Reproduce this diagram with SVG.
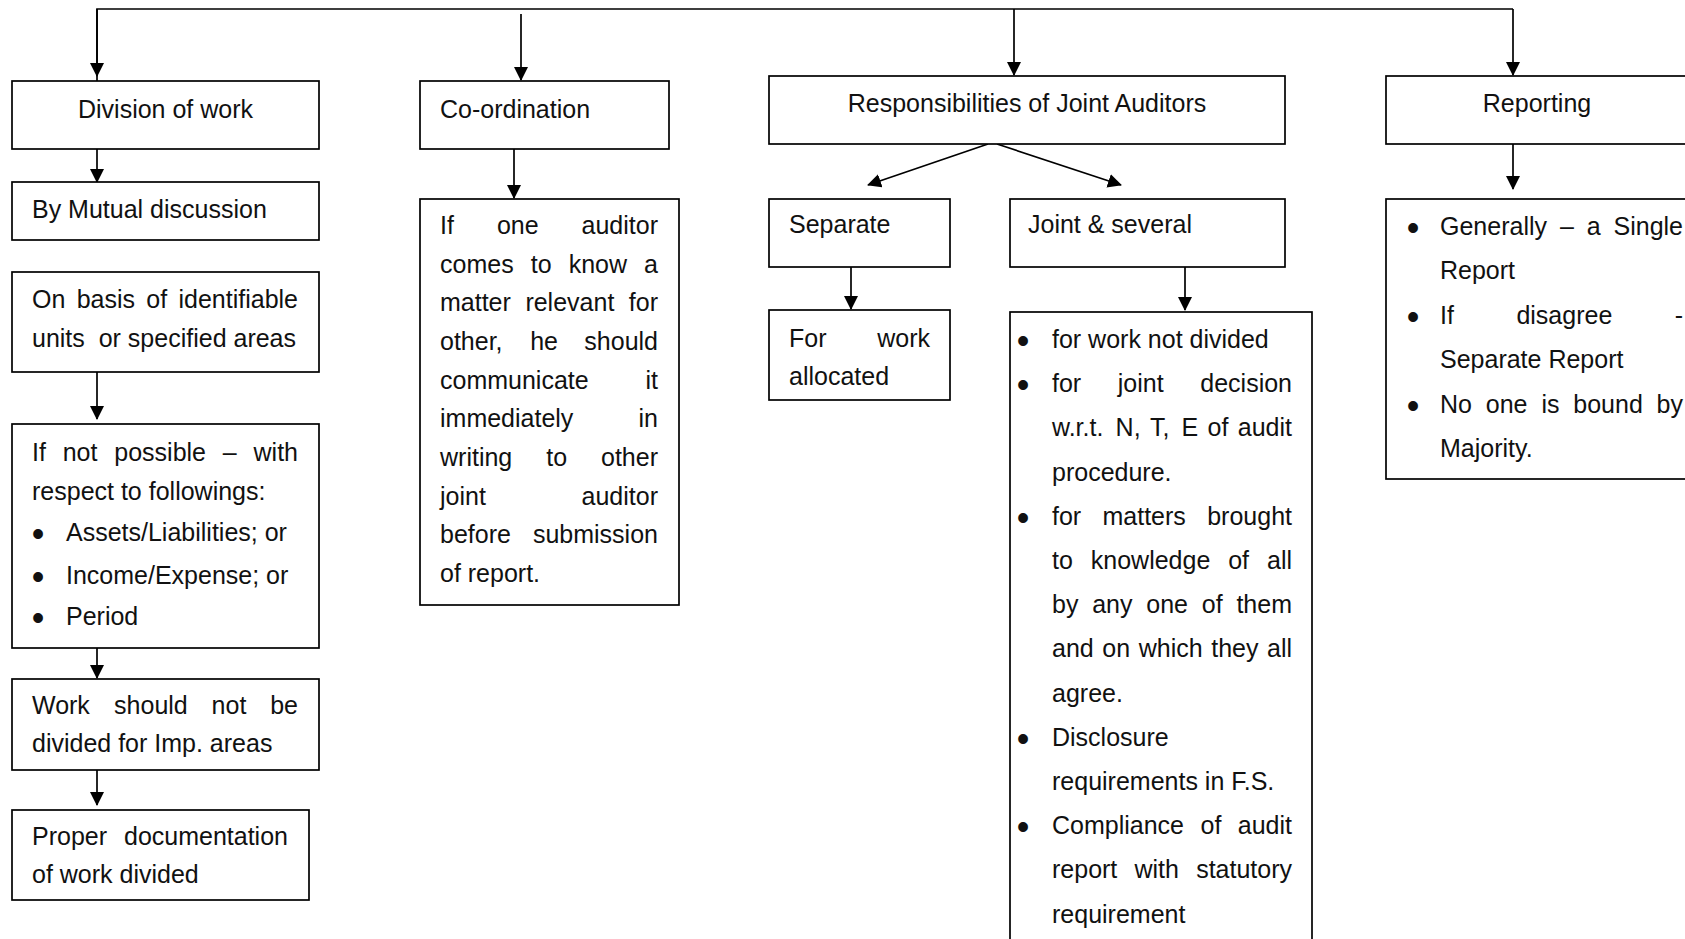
<svg xmlns="http://www.w3.org/2000/svg" width="1685" height="939" viewBox="0 0 1685 939">
  <style>
    .box { fill: #fff; stroke: #000; stroke-width: 1.7; }
    .t { font-family: "Liberation Sans", Arial, sans-serif; font-size: 25px; fill: #111; }
    .b { font-family: "Liberation Sans", Arial, sans-serif; font-size: 36px; fill: #111; text-anchor: middle; }
    .r { text-anchor: end; }
    .m { text-anchor: middle; }
    .edge { fill: none; stroke: #000; stroke-width: 1.7; }
    .arr { marker-end: url(#ah); }
  </style>
  <defs>
    <marker id="ah" markerUnits="userSpaceOnUse" markerWidth="14" markerHeight="14" refX="13" refY="7" orient="auto">
      <path d="M0,0 L14,7 L0,14 z" fill="#000"/>
    </marker>
  </defs>
  <rect width="1685" height="939" fill="#fff"/>

  <!-- connectors -->
  <g id="connectors">
    <path class="edge" d="M97,81 L97,9 L1513,9"/>
    <path class="edge arr" d="M97,9 L97,76"/>
    <path class="edge arr" d="M521,14 L521,80"/>
    <path class="edge arr" d="M1014,9 L1014,75"/>
    <path class="edge arr" d="M1513,9 L1513,75"/>
    <path class="edge arr" d="M97,149 L97,182"/>
    <path class="edge arr" d="M97,372 L97,419"/>
    <path class="edge arr" d="M97,648 L97,678"/>
    <path class="edge arr" d="M97,770 L97,805"/>
    <path class="edge arr" d="M514,149 L514,198"/>
    <path class="edge arr" d="M988,144 L868,185"/>
    <path class="edge arr" d="M997,144 L1121,185"/>
    <path class="edge arr" d="M851,267 L851,309"/>
    <path class="edge arr" d="M1185,267 L1185,310"/>
    <path class="edge arr" d="M1513,144 L1513,189"/>
  </g>

  <!-- Division of work column -->
  <g id="division">
    <rect class="box" x="12" y="81" width="307" height="68"/>
    <text class="t m" x="165.5" y="118">Division of work</text>
  </g>
  <g id="mutual">
    <rect class="box" x="12" y="182" width="307" height="58"/>
    <text class="t" x="32" y="218">By Mutual discussion</text>
  </g>
  <g id="basis">
    <rect class="box" x="12" y="272" width="307" height="100"/>
    <text class="t" y="308"><tspan x="32">On</tspan><tspan x="76.7">basis</tspan><tspan x="146.3">of</tspan></text>
    <text class="t r" x="298" y="308">identifiable</text>
    <text class="t" x="32" y="347" xml:space="preserve">units  or specified areas</text>
  </g>
  <g id="not-possible">
    <rect class="box" x="12" y="424" width="307" height="224"/>
    <text class="t" y="461"><tspan x="32">If</tspan><tspan x="62.7">not</tspan><tspan x="114.3">possible</tspan><tspan x="222.8">–</tspan></text>
    <text class="t r" x="298" y="461">with</text>
    <text class="t" x="32" y="500">respect to followings:</text>
    <text class="b" x="38" y="546">•</text>
    <text class="t" x="66" y="541">Assets/Liabilities; or</text>
    <text class="b" x="38" y="589">•</text>
    <text class="t" x="66" y="584">Income/Expense; or</text>
    <text class="b" x="38" y="630">•</text>
    <text class="t" x="66" y="625">Period</text>
  </g>
  <g id="not-divided">
    <rect class="box" x="12" y="679" width="307" height="91"/>
    <text class="t" y="714"><tspan x="32">Work</tspan><tspan x="114.1">should</tspan><tspan x="211.6">not</tspan></text>
    <text class="t r" x="298" y="714">be</text>
    <text class="t" x="32" y="752">divided for Imp. areas</text>
  </g>
  <g id="documentation">
    <rect class="box" x="12" y="810" width="297" height="90"/>
    <text class="t" x="32" y="845">Proper</text>
    <text class="t r" x="288" y="845">documentation</text>
    <text class="t" x="32" y="883">of work divided</text>
  </g>

  <!-- Co-ordination column -->
  <g id="coordination">
    <rect class="box" x="420" y="81" width="249" height="68"/>
    <text class="t" x="440" y="118">Co-ordination</text>
  </g>
  <g id="communicate">
    <rect class="box" x="420" y="199" width="259" height="406"/>
    <text class="t" y="234"><tspan x="440">If</tspan><tspan x="496.9">one</tspan></text>
    <text class="t r" x="658" y="234">auditor</text>
    <text class="t" y="272.7"><tspan x="440">comes</tspan><tspan x="530.7">to</tspan><tspan x="568.7">know</tspan></text>
    <text class="t r" x="658" y="272.7">a</text>
    <text class="t" y="311.3"><tspan x="440">matter</tspan><tspan x="525.4">relevant</tspan></text>
    <text class="t r" x="658" y="311.3">for</text>
    <text class="t" y="350"><tspan x="440">other,</tspan><tspan x="530.2">he</tspan></text>
    <text class="t r" x="658" y="350">should</text>
    <text class="t" x="440" y="388.7">communicate</text>
    <text class="t r" x="658" y="388.7">it</text>
    <text class="t" x="440" y="427.3">immediately</text>
    <text class="t r" x="658" y="427.3">in</text>
    <text class="t" y="466"><tspan x="440">writing</tspan><tspan x="546.2">to</tspan></text>
    <text class="t r" x="658" y="466">other</text>
    <text class="t" x="440" y="504.7">joint</text>
    <text class="t r" x="658" y="504.7">auditor</text>
    <text class="t" x="440" y="543.3">before</text>
    <text class="t r" x="658" y="543.3">submission</text>
    <text class="t" x="440" y="582">of report.</text>
  </g>

  <!-- Responsibilities column -->
  <g id="responsibilities">
    <rect class="box" x="769" y="76" width="516" height="68"/>
    <text class="t m" x="1027" y="112">Responsibilities of Joint Auditors</text>
  </g>
  <g id="separate">
    <rect class="box" x="769" y="199" width="181" height="68"/>
    <text class="t" x="789" y="233">Separate</text>
  </g>
  <g id="joint-several">
    <rect class="box" x="1010" y="199" width="275" height="68"/>
    <text class="t" x="1028" y="233">Joint &amp; several</text>
  </g>
  <g id="allocated">
    <rect class="box" x="769" y="310" width="181" height="90"/>
    <text class="t" x="789" y="347">For</text>
    <text class="t r" x="930" y="347">work</text>
    <text class="t" x="789" y="385">allocated</text>
  </g>
  <g id="joint-list">
    <rect class="box" x="1010" y="312" width="302" height="660"/>
    <text class="b" x="1023" y="353">•</text>
    <text class="t" x="1052" y="348">for work not divided</text>
    <text class="b" x="1023" y="397.2">•</text>
    <text class="t" y="392.2"><tspan x="1052">for</tspan><tspan x="1117.8">joint</tspan></text>
    <text class="t r" x="1292" y="392.2">decision</text>
    <text class="t" y="436.4"><tspan x="1052">w.r.t.</tspan><tspan x="1115.6">N,</tspan><tspan x="1149.9">T,</tspan><tspan x="1181.5">E</tspan><tspan x="1207.6">of</tspan></text>
    <text class="t r" x="1292" y="436.4">audit</text>
    <text class="t" x="1052" y="480.6">procedure.</text>
    <text class="b" x="1023" y="529.8">•</text>
    <text class="t" y="524.8"><tspan x="1052">for</tspan><tspan x="1102.5">matters</tspan></text>
    <text class="t r" x="1292" y="524.8">brought</text>
    <text class="t" y="569"><tspan x="1052">to</tspan><tspan x="1090.8">knowledge</tspan><tspan x="1228.2">of</tspan></text>
    <text class="t r" x="1292" y="569">all</text>
    <text class="t" y="613.2"><tspan x="1052">by</tspan><tspan x="1092.2">any</tspan><tspan x="1146.3">one</tspan><tspan x="1201.8">of</tspan></text>
    <text class="t r" x="1292" y="613.2">them</text>
    <text class="t" y="657.4"><tspan x="1052">and</tspan><tspan x="1102.3">on</tspan><tspan x="1138.7">which</tspan><tspan x="1211.2">they</tspan></text>
    <text class="t r" x="1292" y="657.4">all</text>
    <text class="t" x="1052" y="701.6">agree.</text>
    <text class="b" x="1023" y="750.8">•</text>
    <text class="t" x="1052" y="745.8">Disclosure</text>
    <text class="t" x="1052" y="790">requirements in F.S.</text>
    <text class="b" x="1023" y="839.2">•</text>
    <text class="t" y="834.2"><tspan x="1052">Compliance</tspan><tspan x="1200.5">of</tspan></text>
    <text class="t r" x="1292" y="834.2">audit</text>
    <text class="t" y="878.4"><tspan x="1052">report</tspan><tspan x="1134.5">with</tspan></text>
    <text class="t r" x="1292" y="878.4">statutory</text>
    <text class="t" x="1052" y="922.6">requirement</text>
  </g>

  <!-- Reporting column -->
  <g id="reporting">
    <rect class="box" x="1386" y="76" width="310" height="68"/>
    <text class="t m" x="1537" y="112">Reporting</text>
  </g>
  <g id="report-list">
    <rect class="box" x="1386" y="199" width="310" height="280"/>
    <text class="b" x="1413" y="240">•</text>
    <text class="t" y="235"><tspan x="1440">Generally</tspan><tspan x="1559.9">–</tspan><tspan x="1586.7">a</tspan></text>
    <text class="t r" x="1683" y="235">Single</text>
    <text class="t" x="1440" y="279.4">Report</text>
    <text class="b" x="1413" y="328.8">•</text>
    <text class="t" y="323.8"><tspan x="1440">If</tspan><tspan x="1516.4">disagree</tspan></text>
    <text class="t r" x="1683" y="323.8">-</text>
    <text class="t" x="1440" y="368.2">Separate Report</text>
    <text class="b" x="1413" y="417.6">•</text>
    <text class="t" y="412.6"><tspan x="1440">No</tspan><tspan x="1485.8">one</tspan><tspan x="1541.4">is</tspan><tspan x="1573.3">bound</tspan></text>
    <text class="t r" x="1683" y="412.6">by</text>
    <text class="t" x="1440" y="457">Majority.</text>
  </g>
</svg>
